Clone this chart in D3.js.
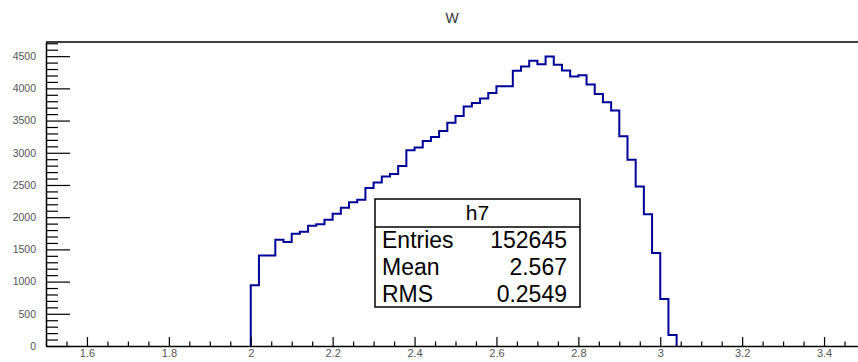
<!DOCTYPE html>
<html>
<head>
<meta charset="utf-8">
<script src="https://cdn.jsdelivr.net/npm/d3@7"></script>
<style>
  html, body { margin: 0; padding: 0; background: #fff; }
  svg { display: block; }
  text { font-family: "Liberation Sans", Arial, Helvetica, sans-serif; }
</style>
</head>
<body>
<script>
// ---- data ----
const chartTitle = "W";
const binLowEdges = [2.00, 2.02, 2.04, 2.06, 2.08, 2.10, 2.12, 2.14, 2.16, 2.18,
                     2.20, 2.22, 2.24, 2.26, 2.28, 2.30, 2.32, 2.34, 2.36, 2.38,
                     2.40, 2.42, 2.44, 2.46, 2.48, 2.50, 2.52, 2.54, 2.56, 2.58,
                     2.60, 2.62, 2.64, 2.66, 2.68, 2.70, 2.72, 2.74, 2.76, 2.78,
                     2.80, 2.82, 2.84, 2.86, 2.88, 2.90, 2.92, 2.94, 2.96, 2.98,
                     3.00, 3.02];
const binWidth = 0.02;
const binCounts = [945, 1405, 1405, 1650, 1614, 1743, 1775, 1867, 1892, 1960,
                   2052, 2148, 2233, 2272, 2452, 2540, 2633, 2669, 2793, 3039,
                   3080, 3183, 3244, 3337, 3466, 3571, 3717, 3774, 3842, 3928,
                   4032, 4032, 4273, 4340, 4428, 4376, 4495, 4366, 4279, 4186,
                   4205, 4058, 3913, 3785, 3657, 3255, 2890, 2478, 2046, 1445,
                   730, 170];
const xTickValues = [1.6, 1.8, 2.0, 2.2, 2.4, 2.6, 2.8, 3.0, 3.2, 3.4];
const xTickLabels = ["1.6", "1.8", "2", "2.2", "2.4", "2.6", "2.8", "3", "3.2", "3.4"];
const yTickValues = [0, 500, 1000, 1500, 2000, 2500, 3000, 3500, 4000, 4500];
const yTickLabels = ["0", "500", "1000", "1500", "2000", "2500", "3000", "3500", "4000", "4500"];
const statsName = "h7";
const statsLabels = ["Entries", "Mean", "RMS"];
const statsValues = ["152645", "2.567", "0.2549"];

// ---- layout ----
const W = 858, H = 362;
const frame = { left: 46, right: 865, top: 42, bottom: 346 };
const lineColor = "#000099";
const labelFont = "'Liberation Sans', Arial, sans-serif";

const svg = d3.select("body").append("svg")
  .attr("width", W).attr("height", H);

const x = d3.scaleLinear().domain([1.5, 3.5]).range([frame.left, frame.right]);
const yMax = d3.max(binCounts) * 1.05;
const y = d3.scaleLinear().domain([0, yMax]).range([frame.bottom, frame.top]);

// title
svg.append("text")
  .attr("x", 452).attr("y", 23)
  .attr("text-anchor", "middle")
  .attr("font-size", 14)
  .attr("fill", "#333")
  .text(chartTitle);

// histogram outline
const pts = [[x(binLowEdges[0]), y(0)]];
binLowEdges.forEach((lo, i) => {
  pts.push([x(lo), y(binCounts[i])]);
  pts.push([x(lo + binWidth), y(binCounts[i])]);
});
pts.push([x(binLowEdges[binLowEdges.length - 1] + binWidth), y(0)]);
svg.append("path")
  .attr("d", d3.line()(pts))
  .attr("fill", "none")
  .attr("stroke", lineColor)
  .attr("stroke-width", 2)
  .attr("stroke-linejoin", "miter");

// frame top
svg.append("line")
  .attr("x1", frame.left).attr("x2", frame.right)
  .attr("y1", frame.top).attr("y2", frame.top)
  .attr("stroke", "#000").attr("stroke-width", 1.5);

// x axis minor ticks
const xMinor = d3.range(1.5, 3.5001, 0.05).filter(v => Math.abs(v * 5 - Math.round(v * 5)) > 1e-6);
svg.append("g")
  .attr("transform", `translate(0,${frame.bottom})`)
  .call(d3.axisBottom(x).tickValues(xMinor).tickSizeInner(-4.5).tickSizeOuter(0).tickFormat(""))
  .call(g => g.select(".domain").remove())
  .call(g => g.selectAll("line").attr("stroke", "#000").attr("stroke-width", 1.2));

// x axis major
svg.append("g")
  .attr("transform", `translate(0,${frame.bottom})`)
  .call(d3.axisBottom(x).tickValues(xTickValues).tickSizeInner(-9).tickSizeOuter(0)
        .tickPadding(3.5).tickFormat((d, i) => xTickLabels[i]))
  .call(g => g.select(".domain").attr("stroke", "#000").attr("stroke-width", 1.5))
  .call(g => g.selectAll("line").attr("stroke", "#000").attr("stroke-width", 1.2))
  .call(g => g.selectAll("text").attr("font-size", 11).attr("fill", "#555")
        .attr("font-family", labelFont));

// y axis minor ticks
const yMinor = d3.range(0, yMax, 100).filter(v => v % 500 !== 0);
svg.append("g")
  .attr("transform", `translate(${frame.left},0)`)
  .call(d3.axisLeft(y).tickValues(yMinor).tickSizeInner(-12).tickSizeOuter(0).tickFormat(""))
  .call(g => g.select(".domain").remove())
  .call(g => g.selectAll("line").attr("stroke", "#000").attr("stroke-width", 1.2));

// y axis major
svg.append("g")
  .attr("transform", `translate(${frame.left},0)`)
  .call(d3.axisLeft(y).tickValues(yTickValues).tickSizeInner(-24).tickSizeOuter(0)
        .tickPadding(10).tickFormat((d, i) => yTickLabels[i]))
  .call(g => g.select(".domain").attr("stroke", "#000").attr("stroke-width", 1.5))
  .call(g => g.selectAll("line").attr("stroke", "#000").attr("stroke-width", 1.2))
  .call(g => g.selectAll("text").attr("font-size", 10.5).attr("fill", "#555")
        .attr("font-family", labelFont));

// stats box
const box = { x: 375, y: 199, w: 205, h: 108, header: 28 };
const statsFont = 23;
const sb = svg.append("g");
sb.append("rect")
  .attr("x", box.x).attr("y", box.y).attr("width", box.w).attr("height", box.h)
  .attr("fill", "#fff").attr("stroke", "#000").attr("stroke-width", 1.5);
sb.append("line")
  .attr("x1", box.x).attr("x2", box.x + box.w)
  .attr("y1", box.y + box.header).attr("y2", box.y + box.header)
  .attr("stroke", "#000").attr("stroke-width", 1.5);
sb.append("text")
  .attr("x", box.x + box.w / 2).attr("y", box.y + 21)
  .attr("text-anchor", "middle").attr("font-size", 21).attr("fill", "#000")
  .text(statsName);
const rowH = (box.h - box.header) / statsLabels.length;
statsLabels.forEach((lab, i) => {
  const by = box.y + box.header + rowH * i + rowH / 2 + 8;
  sb.append("text").attr("x", box.x + 7).attr("y", by)
    .attr("font-size", statsFont).attr("fill", "#000").text(lab);
  sb.append("text").attr("x", box.x + box.w - 13).attr("y", by)
    .attr("text-anchor", "end").attr("font-size", statsFont).attr("fill", "#000").text(statsValues[i]);
});
</script>
</body>
</html>
